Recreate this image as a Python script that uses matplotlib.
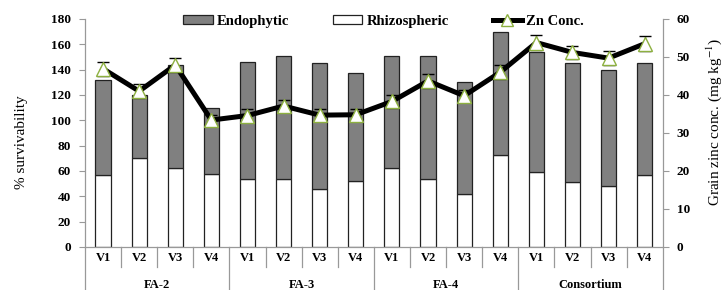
import matplotlib
matplotlib.use("Agg")
import matplotlib.pyplot as plt
from matplotlib.patches import Patch
from matplotlib.lines import Line2D
import numpy as np

groups = ["FA-2", "FA-3", "FA-4", "Consortium"]
varieties = ["V1", "V2", "V3", "V4"]
total_survival = [132, 120, 144, 110, 146, 151, 145, 137, 151, 151, 130, 170, 154, 145, 140, 145]
rhizospheric = [57, 70, 62, 58, 54, 54, 46, 52, 62, 54, 42, 73, 59, 51, 48, 57]
zn_conc = [46.9, 41.0, 47.9, 33.4, 34.6, 37.1, 34.7, 34.8, 38.3, 43.7, 39.8, 46.0, 53.8, 51.2, 49.7, 53.5]
zn_err = [1.8, 1.8, 1.9, 1.4, 1.6, 1.7, 1.6, 1.6, 1.8, 1.8, 1.6, 1.8, 1.9, 1.8, 1.8, 1.9]

endophytic = [t - r for t, r in zip(total_survival, rhizospheric)]

plt.rcParams['font.family'] = ['Liberation Serif', 'DejaVu Serif']
plt.rcParams['mathtext.fontset'] = 'stix'

fig = plt.figure(figsize=(7.27, 2.90), dpi=100)
ax = fig.add_axes([0.1169, 0.1483, 0.7947, 0.7862])
ax2 = ax.twinx()

n = len(total_survival)
x = np.arange(n)
bw = 0.42
gray = '#808080'
spine_c = '#999999'

ax.bar(x, rhizospheric, bw, color='white', edgecolor='#222222', linewidth=0.9, zorder=2)
ax.bar(x, endophytic, bw, bottom=rhizospheric, color=gray, edgecolor='#222222', linewidth=0.9, zorder=2)

ax2.errorbar(x, zn_conc, yerr=zn_err, color='black', lw=3.6, ecolor='black', elinewidth=0.9,
             capsize=4, capthick=0.9, marker='^', markersize=10, markerfacecolor='white',
             markeredgecolor='#8db040', markeredgewidth=1.0, zorder=5)

ax.set_xlim(-0.5, n - 0.5)
ax.set_ylim(0, 180)
ax2.set_ylim(0, 60)
ax.set_yticks(np.arange(0, 181, 20))
ax2.set_yticks(np.arange(0, 61, 10))
ax.set_xticks([])

for a in (ax, ax2):
    for s in a.spines.values():
        s.set_visible(False)
    a.tick_params(axis='y', direction='out', length=4, width=0.8, color=spine_c,
                  labelsize=9.5, pad=6)
    for lab in a.get_yticklabels():
        lab.set_fontweight('bold')

ax2.set_zorder(ax.get_zorder() + 1)
ax.patch.set_visible(False)

# baseline
ax.plot([-0.5, n - 0.5], [0, 0], color=spine_c, lw=0.9, clip_on=False, zorder=3)

trans = ax.get_xaxis_transform()
bottom_fig = -0.195
for xv in [-0.5, n - 0.5]:
    ax.plot([xv, xv], [1.0, bottom_fig], color=spine_c, lw=0.9, transform=trans, clip_on=False)
for b in range(1, n):
    xb = b - 0.5
    if b % 4 == 0:
        ax.plot([xb, xb], [0, bottom_fig], color=spine_c, lw=0.9, transform=trans, clip_on=False)
    else:
        ax.plot([xb, xb], [0, -0.088], color=spine_c, lw=0.9, transform=trans, clip_on=False)

for i in range(n):
    ax.text(x[i], -0.05, varieties[i % 4], transform=trans, ha='center', va='center',
            fontsize=9, fontweight='bold')
for g, name in enumerate(groups):
    ax.text(g * 4 + 1.5, -0.165, name, transform=trans, ha='center', va='center',
            fontsize=9, fontweight='bold')

fig.text(22 / 727, 1 - 142 / 290, '% survivability', rotation=90, ha='center', va='center',
         fontsize=11)
fig.text(714 / 727, 1 - 122 / 290, 'Grain zinc conc. (mg kg$^{-1}$)', rotation=90,
         ha='center', va='center', fontsize=11)

handles = [Patch(facecolor=gray, edgecolor='#222222', linewidth=0.9),
           Patch(facecolor='white', edgecolor='#222222', linewidth=0.9),
           Line2D([0], [0], color='black', lw=3.6, marker='^', markersize=8,
                  markerfacecolor='white', markeredgecolor='#8db040')]
leg = ax2.legend(handles, ['Endophytic', 'Rhizospheric', 'Zn Conc.'], ncol=3, frameon=False,
                 loc='center', bbox_to_anchor=(0.517, 0.99), handlelength=2.0, handleheight=0.55,
                 columnspacing=3.0, handletextpad=0.3, prop={'weight': 'bold', 'size': 10.5})

fig.savefig('out.png', dpi=100)
